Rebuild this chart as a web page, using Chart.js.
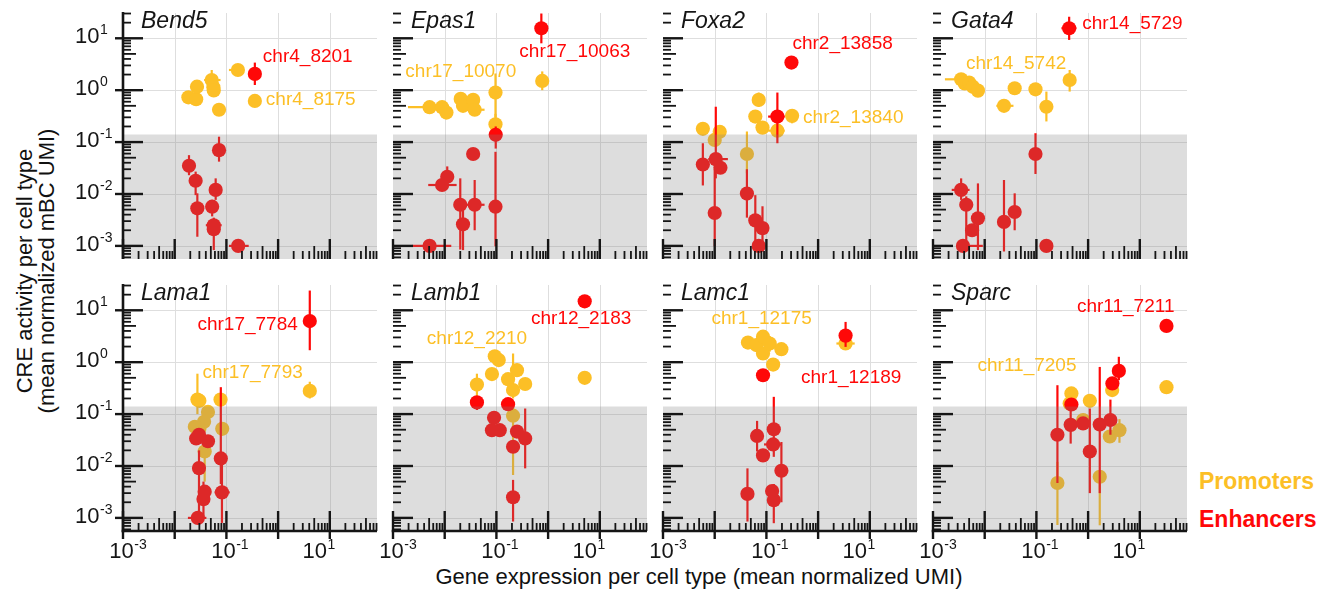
<!DOCTYPE html>
<html>
<head>
<meta charset="utf-8">
<script src="https://cdn.jsdelivr.net/npm/chart.js@4.4.1/dist/chart.umd.min.js"></script>
<style>
html,body{margin:0;padding:0;background:#fff;}
#wrap{position:relative;width:1338px;height:592px;overflow:hidden;font-family:"Liberation Sans",Arial,Helvetica,sans-serif;color:#111;}
#wrap canvas{position:absolute;left:0;top:0;}
.txt{position:absolute;white-space:nowrap;}
</style>
</head>
<body>
<div id="wrap">
  <div class="txt" id="ytitle" style="left:-164px;top:249px;width:400px;height:44px;font-size:22px;line-height:22px;text-align:center;transform:rotate(-90deg);transform-origin:50% 50%;">CRE activity per cell type<br>(mean normalized mBC UMI)</div>
  <div class="txt" id="xtitle" style="left:299px;top:564px;width:800px;font-size:22px;line-height:26px;text-align:center;">Gene expression per cell type (mean normalized UMI)</div>
  <div class="txt" style="left:1199px;top:468px;font-size:23px;line-height:26px;font-weight:bold;color:rgb(252,191,38);">Promoters</div>
  <div class="txt" style="left:1199px;top:506px;font-size:23px;line-height:26px;font-weight:bold;color:rgb(255,8,8);">Enhancers</div>
</div>
<script>
// ---------------- DATA ----------------
const genes = ['Bend5','Epas1','Foxa2','Gata4','Lama1','Lamb1','Lamc1','Sparc'];

// Bend5
const bend5PromX = [0.355, 0.0184, 0.026, 0.027, 0.052, 0.056, 0.057, 0.072, 0.167];
const bend5PromY = [0.62, 0.73, 0.67, 1.17, 1.57, 1.14, 0.99, 0.42, 2.45];
const bend5PromYErr = [null, null, null, null, [1.0, 2.45], null, null, null, null];
const bend5PromXErr = [null, null, null, null, [0.037, 0.077], null, null, null, [0.112, 0.2]];
const bend5EnhX = [0.355, 0.0189, 0.0254, 0.0274, 0.053, 0.062, 0.057, 0.057, 0.072, 0.169];
const bend5EnhY = [2.06, 0.035, 0.018, 0.0053, 0.0057, 0.012, 0.0025, 0.0021, 0.070, 0.001];
const bend5EnhYErr = [[1.26, 3.4], [0.023, 0.056], [0.0095, 0.027], [0.0015, 0.0103], [0.0037, 0.0077], [0.0077, 0.020], null, [0.00083, 0.0035], [0.042, 0.127], null];
const bend5EnhXErr = [null, null, null, null, null, null, [0.040, 0.081], null, null, [0.112, 0.27]];

// Epas1
const epas1PromX = [0.77, 0.0051, 0.0089, 0.0108, 0.0204, 0.0226, 0.0355, 0.038, 0.096, 0.096];
const epas1PromY = [1.51, 0.47, 0.47, 0.37, 0.68, 0.50, 0.65, 0.42, 0.90, 0.22];
const epas1PromYErr = [[1.0, 2.3], null, null, null, null, null, null, null, [0.3, 2.1], [0.14, 0.35]];
const epas1PromXErr = [null, [0.00195, 0.0093], null, null, null, null, null, [0.026, 0.059], null, null];
const epas1EnhX = [0.74, 0.097, 0.0355, 0.0112, 0.0089, 0.020, 0.038, 0.0226, 0.096, 0.0051];
const epas1EnhY = [15.6, 0.138, 0.059, 0.0215, 0.0149, 0.0062, 0.0062, 0.0026, 0.0057, 0.001];
const epas1EnhYErr = [[8.0, 30], [0.075, 0.2], null, [0.014, 0.034], null, [0.00085, 0.02], [0.002, 0.0186], [0.00083, 0.0066], [0.00098, 0.065], null];
const epas1EnhXErr = [null, null, null, null, [0.0048, 0.017], null, [0.026, 0.059], null, null, [0.0024, 0.0134]];

// Foxa2
const foxa2PromX = [0.314, 0.0059, 0.0100, 0.0125, 0.042, 0.071, 0.061, 0.084, 0.163];
const foxa2PromY = [0.32, 0.18, 0.11, 0.158, 0.059, 0.65, 0.31, 0.19, 0.166];
const foxa2PromYErr = [[0.23, 0.43], null, null, null, [0.025, 0.16], [0.48, 0.9], null, null, null];
const foxa2PromXErr = [null, null, null, null, null, null, null, null, [0.108, 0.226]];
const foxa2EnhX = [0.305, 0.163, 0.0059, 0.0105, 0.0129, 0.0100, 0.042, 0.061, 0.084, 0.071];
const foxa2EnhY = [3.4, 0.31, 0.037, 0.047, 0.032, 0.0043, 0.0102, 0.0031, 0.0022, 0.001];
const foxa2EnhYErr = [null, [0.095, 0.9], [0.0146, 0.095], [0.02, 0.48], null, [0.00098, 0.03], [0.0035, 0.03], [0.00098, 0.0095], [0.00098, 0.0058], null];
const foxa2EnhXErr = [null, [0.108, 0.226], null, [0.0075, 0.018], null, null, null, null, null, null];

// Gata4
const gata4PromX = [0.44, 0.0035, 0.0041, 0.005, 0.0059, 0.0074, 0.0236, 0.038, 0.096, 0.156];
const gata4PromY = [1.57, 1.62, 1.35, 1.4, 1.17, 0.98, 0.50, 1.09, 1.04, 0.48];
const gata4PromYErr = [[0.94, 2.45], null, null, null, null, null, null, null, null, [0.25, 0.94]];
const gata4PromXErr = [null, [0.0017, 0.0055], null, null, null, null, [0.0168, 0.036], null, null, null];
const gata4EnhX = [0.43, 0.096, 0.0035, 0.0044, 0.0074, 0.0057, 0.0038, 0.0236, 0.038, 0.156];
const gata4EnhY = [15.6, 0.059, 0.012, 0.0062, 0.0034, 0.0020, 0.001, 0.0029, 0.0045, 0.001];
const gata4EnhYErr = [[9.3, 26], [0.0243, 0.148], [0.0077, 0.020], [0.00098, 0.009], [0.00083, 0.016], null, null, [0.00078, 0.0186], [0.002, 0.0103], null];
const gata4EnhXErr = [[0.305, 0.594], null, [0.0023, 0.0051], null, null, null, [0.0038, 0.0092], null, null, null];

// Lama1
const lama1PromX = [4.1, 0.0275, 0.030, 0.077, 0.044, 0.037, 0.0245, 0.030, 0.083, 0.038];
const lama1PromY = [0.28, 0.19, 0.18, 0.19, 0.11, 0.071, 0.057, 0.052, 0.052, 0.019];
const lama1PromYErr = [[0.2, 0.42], [0.1, 0.6], null, null, null, null, null, null, null, [0.005, 0.04]];
const lama1PromXErr = [null, null, null, null, null, null, null, null, [0.068, 0.102], null];
const lama1EnhX = [4.1, 0.0295, 0.026, 0.044, 0.0295, 0.038, 0.036, 0.028, 0.078, 0.082];
const lama1EnhY = [6.2, 0.040, 0.034, 0.030, 0.0091, 0.0032, 0.0023, 0.001, 0.014, 0.0031];
const lama1EnhYErr = [[1.7, 24], null, null, null, [0.0012, 0.02], null, [0.001, 0.005], null, [0.0045, 0.33], [0.0008, 0.014]];
const lama1EnhXErr = [null, null, null, null, null, null, null, [0.018, 0.041], null, [0.059, 0.116]];

// Lamb1
const lamb1PromX = [5.1, 0.093, 0.111, 0.082, 0.042, 0.168, 0.25, 0.21, 0.36, 0.21];
const lamb1PromY = [0.50, 1.30, 1.1, 0.59, 0.37, 0.47, 0.70, 0.29, 0.38, 0.093];
const lamb1PromYErr = [null, null, null, null, [0.215, 0.6], null, null, [0.2, 1.47], null, [0.0067, 0.14]];
const lamb1PromXErr = [null, null, null, null, null, null, null, null, null, null];
const lamb1EnhX = [5.1, 0.042, 0.168, 0.090, 0.082, 0.116, 0.25, 0.36, 0.21, 0.21];
const lamb1EnhY = [14.9, 0.168, 0.155, 0.085, 0.049, 0.049, 0.046, 0.034, 0.0235, 0.0025];
const lamb1EnhYErr = [null, [0.12, 0.2], null, null, null, null, null, [0.009, 0.128], null, [0.00085, 0.0054]];
const lamb1EnhXErr = [null, null, null, null, null, null, null, null, null, null];

// Lamc1
const lamc1PromX = [3.4, 0.044, 0.064, 0.086, 0.086, 0.116, 0.195, 0.135];
const lamc1PromY = [2.29, 2.39, 2.14, 3.1, 1.47, 2.29, 1.78, 0.90];
const lamc1PromYErr = [[1.9, 2.7], null, null, null, null, [1.6, 3.2], null, null];
const lamc1PromXErr = [[2.26, 5.1], null, null, null, null, null, null, null];
const lamc1EnhX = [3.4, 0.086, 0.066, 0.139, 0.135, 0.086, 0.195, 0.043, 0.129, 0.139];
const lamc1EnhY = [3.25, 0.56, 0.038, 0.051, 0.026, 0.016, 0.0081, 0.0029, 0.0033, 0.0022];
const lamc1EnhYErr = [[1.97, 5.97], null, [0.019, 0.074], [0.015, 0.215], null, null, [0.002, 0.029], [0.00085, 0.009], null, [0.00079, 0.0045]];
const lamc1EnhXErr = [[2.7, 4.3], null, null, null, [0.09, 0.2], null, null, null, null, null];

// Sparc
const sparcPromX = [32.8, 0.475, 1.08, 2.92, 0.80, 2.63, 4.04, 0.255, 1.68, 0.44];
const sparcPromY = [0.33, 0.25, 0.18, 0.29, 0.077, 0.037, 0.049, 0.0047, 0.0062, 0.16];
const sparcPromYErr = [null, null, null, null, null, null, [0.028, 0.08], [0.00073, 0.012], [0.00072, 0.0062], null];
const sparcPromXErr = [null, null, null, null, null, null, null, null, null, null];
const sparcEnhX = [32.8, 3.93, 2.95, 0.475, 0.46, 0.80, 1.68, 2.70, 0.255, 1.08];
const sparcEnhY = [5.0, 0.68, 0.39, 0.153, 0.062, 0.066, 0.063, 0.077, 0.040, 0.019];
const sparcEnhYErr = [null, [0.45, 1.27], null, null, [0.027, 0.12], null, [0.003, 0.81], [0.04, 0.19], [0.0047, 0.36], [0.003, 0.128]];
const sparcEnhXErr = [null, null, null, null, null, null, null, null, null, null];

// labelled CREs (first point of each series)
const enhLabels = ['chr4_8201', 'chr17_10063', 'chr2_13858', 'chr14_5729', 'chr17_7784', 'chr12_2183', 'chr1_12189', 'chr11_7211'];
const promLabels = ['chr4_8175', 'chr17_10070', 'chr2_13840', 'chr14_5742', 'chr17_7793', 'chr12_2210', 'chr1_12175', 'chr11_7205'];

// axis tick labels
const xTickExps = [-3, -1, 1];
const yTickExps = [1, 0, -1, -2, -3];
const activityThreshold = 0.14;

// ---------------- TABLE BUILT FROM ARRAYS ----------------
const panels = [
  [bend5PromX, bend5PromY, bend5PromYErr, bend5PromXErr, bend5EnhX, bend5EnhY, bend5EnhYErr, bend5EnhXErr],
  [epas1PromX, epas1PromY, epas1PromYErr, epas1PromXErr, epas1EnhX, epas1EnhY, epas1EnhYErr, epas1EnhXErr],
  [foxa2PromX, foxa2PromY, foxa2PromYErr, foxa2PromXErr, foxa2EnhX, foxa2EnhY, foxa2EnhYErr, foxa2EnhXErr],
  [gata4PromX, gata4PromY, gata4PromYErr, gata4PromXErr, gata4EnhX, gata4EnhY, gata4EnhYErr, gata4EnhXErr],
  [lama1PromX, lama1PromY, lama1PromYErr, lama1PromXErr, lama1EnhX, lama1EnhY, lama1EnhYErr, lama1EnhXErr],
  [lamb1PromX, lamb1PromY, lamb1PromYErr, lamb1PromXErr, lamb1EnhX, lamb1EnhY, lamb1EnhYErr, lamb1EnhXErr],
  [lamc1PromX, lamc1PromY, lamc1PromYErr, lamc1PromXErr, lamc1EnhX, lamc1EnhY, lamc1EnhYErr, lamc1EnhXErr],
  [sparcPromX, sparcPromY, sparcPromYErr, sparcPromXErr, sparcEnhX, sparcEnhY, sparcEnhYErr, sparcEnhXErr]
];

// ---------------- LAYOUT / STYLE ----------------
const W = 1338, H = 592;
const COL_LEFT = [123, 393, 663, 933];
const ROW_TOP = [13, 285];
const PW = 254, PH = 246;
const XMIN = 1e-3, XMAX = 81.8, YMIN = 5.59e-4, YMAX = 30.7;
const FONT = '"Liberation Sans", Arial, Helvetica, sans-serif';
const ORANGE = 'rgb(252,191,38)';
const RED = 'rgb(255,8,8)';
const INK = '#151515';
const GRID = '#dedede';
const SHADE = 'rgba(128,128,128,0.27)';
const PT_R = 7.1;
// label placement relative to the point: [dx, dy, align]
const ENH_LABEL_POS = [[8,-17,'left'],[-22,24,'left'],[1,-19,'left'],[13,-4,'left'],[-12,4,'right'],[-3.5,17,'center'],[5.6,42,'center'],[8,-19,'right']];
const PROM_LABEL_POS = [[11,-1,'left'],[-26,-9,'right'],[11,1.6,'left'],[-3.4,-16,'right'],[-7,-18.5,'right'],[-57.5,-39.4,'right'],[-33.8,-25,'right'],[-90,-21,'right']];
const XLABEL_SHIFT = {'-3': 5, '-1': 3.5, '1': -11};

function pts(xs, ys) { return xs.map((x, k) => ({x: x, y: ys[k]})); }

function line(ctx, x1, y1, x2, y2) { ctx.beginPath(); ctx.moveTo(x1, y1); ctx.lineTo(x2, y2); ctx.stroke(); }

function powParts(ctx, exp) {
  ctx.font = '22px ' + FONT;
  const wb = ctx.measureText('10').width;
  ctx.font = '14px ' + FONT;
  const we = ctx.measureText(String(exp)).width;
  return {wb, we};
}
function drawPow(ctx, exp, x, baseline) {
  ctx.textAlign = 'left';
  ctx.textBaseline = 'alphabetic';
  ctx.font = '22px ' + FONT;
  ctx.fillText('10', x, baseline);
  const wb = ctx.measureText('10').width;
  ctx.font = '14px ' + FONT;
  ctx.fillText(String(exp), x + wb + 0.5, baseline - 9);
}

function makePanel(i) {
  const col = i % 4, row = Math.floor(i / 4);
  const left = COL_LEFT[col], top = ROW_TOP[row];
  const isLeft = col === 0, isBottom = row === 1;
  const d = panels[i];
  const canvas = document.createElement('canvas');
  canvas.width = W; canvas.height = H;
  canvas.style.width = W + 'px'; canvas.style.height = H + 'px';
  document.getElementById('wrap').appendChild(canvas);

  const plugin = {
    id: 'panel' + i,
    beforeDatasetsDraw(chart) {
      const ctx = chart.ctx, ca = chart.chartArea, xs = chart.scales.x, ys = chart.scales.y;
      ctx.save();
      ctx.strokeStyle = GRID; ctx.lineWidth = 1;
      for (let e = -2; e <= 1; e++) { const px = Math.round(xs.getPixelForValue(Math.pow(10, e))) + 0.5; line(ctx, px, ca.top, px, ca.bottom); }
      for (let e = -3; e <= 1; e++) { const py = Math.round(ys.getPixelForValue(Math.pow(10, e))) + 0.5; line(ctx, ca.left, py, ca.right, py); }
      ctx.restore();
    },
    beforeDatasetDraw(chart, args) {
      const ds = chart.data.datasets[args.index];
      const ctx = chart.ctx, ca = chart.chartArea, xs = chart.scales.x, ys = chart.scales.y;
      ctx.save();
      ctx.beginPath(); ctx.rect(ca.left, ca.top, ca.width, ca.height); ctx.clip();
      ctx.strokeStyle = ds.backgroundColor; ctx.lineWidth = 2.2; ctx.lineCap = 'butt';
      ds.data.forEach((p, k) => {
        const px = xs.getPixelForValue(p.x), py = ys.getPixelForValue(p.y);
        const ye = ds.errY[k], xe = ds.errX[k];
        if (ye) line(ctx, px, ys.getPixelForValue(ye[0]), px, ys.getPixelForValue(ye[1]));
        if (xe) line(ctx, xs.getPixelForValue(xe[0]), py, xs.getPixelForValue(xe[1]), py);
      });
      ctx.restore();
    },
    afterDatasetsDraw(chart) {
      const ctx = chart.ctx, ca = chart.chartArea, ys = chart.scales.y;
      const yt = ys.getPixelForValue(activityThreshold);
      ctx.save();
      ctx.fillStyle = SHADE;
      ctx.fillRect(ca.left, yt, ca.width, ca.bottom - yt);
      ctx.restore();
    },
    afterDraw(chart) {
      const ctx = chart.ctx, ca = chart.chartArea, xs = chart.scales.x, ys = chart.scales.y;
      ctx.save();
      ctx.strokeStyle = INK; ctx.fillStyle = INK; ctx.lineCap = 'butt';
      // x log ticks (inside)
      for (let e = -4; e <= 2; e++) for (let m = 1; m <= 9; m++) {
        const v = m * Math.pow(10, e);
        if (v < XMIN * 0.999 || v > XMAX) continue;
        const px = xs.getPixelForValue(v);
        const len = m === 1 ? 20 : (m === 5 ? 13 : 8);
        ctx.lineWidth = m === 1 ? 2.4 : 1.8;
        line(ctx, px, ca.bottom, px, ca.bottom - len);
        if (isBottom && m === 1) line(ctx, px, ca.bottom, px, ca.bottom + 8);
      }
      // y log ticks (inside)
      for (let e = -4; e <= 2; e++) for (let m = 1; m <= 9; m++) {
        const v = m * Math.pow(10, e);
        if (v < YMIN || v > YMAX) continue;
        const py = ys.getPixelForValue(v);
        const len = m === 1 ? 20 : (m === 5 ? 13 : 8);
        ctx.lineWidth = m === 1 ? 2.4 : 1.8;
        line(ctx, ca.left, py, ca.left + len, py);
        if (isLeft && m === 1) line(ctx, ca.left - 8, py, ca.left, py);
      }
      ctx.lineWidth = 2.6;
      if (isLeft) line(ctx, ca.left, ca.top - 1, ca.left, ca.bottom + (isBottom ? 1.3 : 0));
      if (isBottom) line(ctx, ca.left - 1.3, ca.bottom, ca.right, ca.bottom);
      // tick labels
      if (isLeft) yTickExps.forEach(e => {
        const py = ys.getPixelForValue(Math.pow(10, e));
        drawPow(ctx, e, 75, py + 5);
      });
      if (isBottom) xTickExps.forEach(e => {
        const px = xs.getPixelForValue(Math.pow(10, e));
        const p = powParts(ctx, e);
        const w = p.wb + 0.5 + p.we;
        drawPow(ctx, e, px - w / 2 + XLABEL_SHIFT[String(e)], ca.bottom + 27);
      });
      // panel title
      ctx.font = 'italic 23px ' + FONT;
      ctx.textAlign = 'left'; ctx.textBaseline = 'alphabetic';
      ctx.fillText(genes[i], ca.left + 18, ca.top + 15.3);
      // annotations
      ctx.font = '19px ' + FONT; ctx.textBaseline = 'middle';
      const ann = [[d[4][0], d[5][0], enhLabels[i], ENH_LABEL_POS[i], RED], [d[0][0], d[1][0], promLabels[i], PROM_LABEL_POS[i], ORANGE]];
      ann.forEach(a => {
        const px = xs.getPixelForValue(a[0]), py = ys.getPixelForValue(a[1]);
        ctx.fillStyle = a[4]; ctx.textAlign = a[3][2];
        ctx.fillText(a[2], px + a[3][0], py + a[3][1]);
      });
      ctx.restore();
    }
  };

  new Chart(canvas, {
    type: 'scatter',
    data: {
      datasets: [
        {label: 'Enhancers', data: pts(d[4], d[5]), errY: d[6], errX: d[7], backgroundColor: RED, borderColor: RED, borderWidth: 0, pointRadius: PT_R, pointHoverRadius: PT_R},
        {label: 'Promoters', data: pts(d[0], d[1]), errY: d[2], errX: d[3], backgroundColor: ORANGE, borderColor: ORANGE, borderWidth: 0, pointRadius: PT_R, pointHoverRadius: PT_R}
      ]
    },
    options: {
      responsive: false, animation: false, devicePixelRatio: 1, events: [],
      layout: {padding: {left: left, top: top, right: W - left - PW, bottom: H - top - PH}},
      scales: {
        x: {type: 'logarithmic', min: XMIN, max: XMAX, display: false},
        y: {type: 'logarithmic', min: YMIN, max: YMAX, display: false}
      },
      plugins: {legend: {display: false}, tooltip: {enabled: false}, title: {display: false}}
    },
    plugins: [plugin]
  });
}

for (let i = 0; i < 8; i++) makePanel(i);
</script>
</body>
</html>
